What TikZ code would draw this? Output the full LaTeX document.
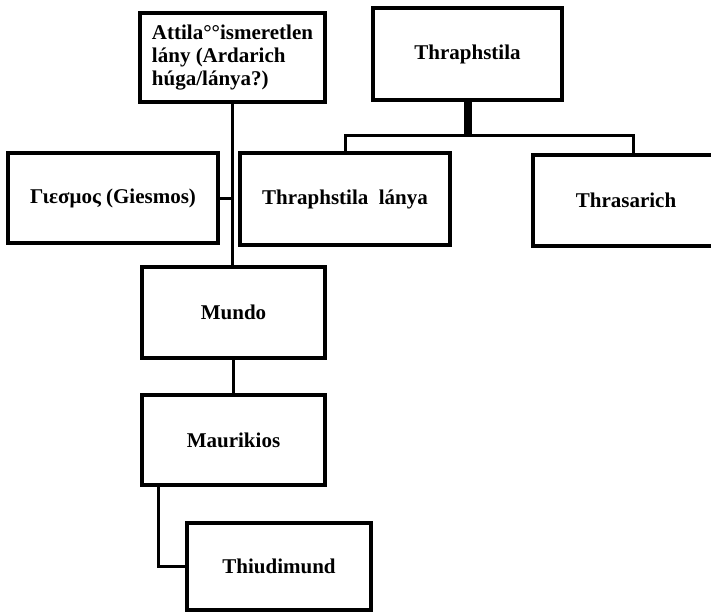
\documentclass[tikz,border=0pt]{standalone}
\usepackage{fontspec}
\setmainfont{Liberation Serif}
\usetikzlibrary{positioning}

\tikzset{
  person/.style={draw, rectangle, line width=3.5pt, inner sep=0pt,
    font=\fontsize{21}{23}\selectfont\bfseries, align=center},
  link/.style={line width=3pt},
}

\begin{document}
\begin{tikzpicture}[x=1pt, y=-1pt]
  \useasboundingbox (0,0) rectangle (711,611);
  \clip (0,0) rectangle (711,611);

  \node[person, minimum width=185pt, minimum height=89pt, align=left] (attila) at (232.5,57.5) {Attila°°ismeretlen\\lány (Ardarich\\húga/lánya?)};
  \node[person, minimum width=189pt, minimum height=92pt] (thraph) at (467.5,54) {Thraphstila};

  \node[person, minimum width=210pt, minimum height=90pt] (giesmos) at (113,198) {Γιεσμος (Giesmos)};
  \node[person, minimum width=210pt, minimum height=92pt] (lanya) at (345,199) {Thraphstila~ lánya};
  \node[person, minimum width=186pt, minimum height=91pt] (thrasarich) at (626,200.5) {Thrasarich};

  \node[person, minimum width=183pt, minimum height=91pt] (mundo) at (233.5,312.5) {Mundo};
  \node[person, minimum width=183pt, minimum height=90pt] (maurikios) at (233.5,440) {Maurikios};
  \node[person, minimum width=184pt, minimum height=87pt] (thiudimund) at (279,566.5) {Thiudimund};

  % Attila ag
  \draw[link] (attila.south) -- (attila.south |- mundo.north);
  \draw[link] (giesmos.east) -- (giesmos.east -| attila.south);
  \draw[link] (mundo) -- (maurikios);
  \draw[link] ([xshift=18pt]maurikios.south west) |- (thiudimund.west);

  % Thraphstila ag
  \draw[link] (lanya.north) -- ++(0,-16) coordinate (fork) -| ([xshift=7pt]thrasarich.north);
  \draw[line width=8pt] (thraph.south) -- (thraph.south |- fork);
\end{tikzpicture}
\end{document}
